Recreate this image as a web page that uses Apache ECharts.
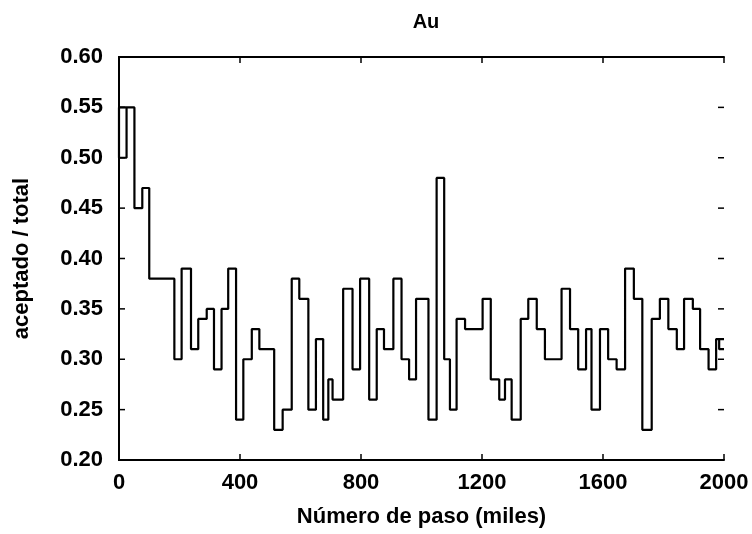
<!DOCTYPE html>
<html>
<head>
<meta charset="utf-8">
<script src="https://cdn.jsdelivr.net/npm/echarts@6/dist/echarts.min.js"></script>
<style>html,body{margin:0;padding:0;background:#fff}#c{width:752px;height:534px}</style>
</head>
<body>
<div id="c"></div>
<script>
// step start positions (thousands of steps) and accepted/total values
// (the first three points redraw the small closed box seen at the origin)
var stepX = [25, 0, 25, 51, 77, 100, 183, 207, 238, 262, 290, 314, 339, 361, 387, 411, 439, 464, 513, 541, 571, 596, 626, 651, 675, 692, 706, 741, 772, 797, 827, 852, 876, 907, 934, 959, 982, 1023, 1050, 1075, 1094, 1116, 1144, 1202, 1229, 1257, 1276, 1298, 1328, 1353, 1381, 1408, 1463, 1491, 1518, 1544, 1562, 1590, 1617, 1645, 1673, 1702, 1730, 1761, 1788, 1816, 1844, 1868, 1897, 1921, 1949, 1974, 2000, 1984, 2000];
var stepY = [0.55, 0.50, 0.55, 0.45, 0.47, 0.38, 0.30, 0.39, 0.31, 0.34, 0.35, 0.29, 0.35, 0.39, 0.24, 0.30, 0.33, 0.31, 0.23, 0.25, 0.38, 0.36, 0.25, 0.32, 0.24, 0.28, 0.26, 0.37, 0.29, 0.38, 0.26, 0.33, 0.31, 0.38, 0.30, 0.28, 0.36, 0.24, 0.48, 0.30, 0.25, 0.34, 0.33, 0.36, 0.28, 0.26, 0.28, 0.24, 0.34, 0.36, 0.33, 0.30, 0.37, 0.33, 0.29, 0.33, 0.25, 0.33, 0.30, 0.29, 0.39, 0.36, 0.23, 0.34, 0.36, 0.33, 0.31, 0.36, 0.35, 0.31, 0.29, 0.32, 0.32, 0.31, 0.31];
var xTicks = [0, 400, 800, 1200, 1600, 2000];
var yTicks = [0.20, 0.25, 0.30, 0.35, 0.40, 0.45, 0.50, 0.55, 0.60];

var XMIN = xTicks[0], XMAX = xTicks[xTicks.length - 1];
var YMIN = yTicks[0], YMAX = yTicks[yTicks.length - 1];
var TL = 6;
var data = stepX.map(function (x, i) { return [x, stepY[i]]; });
var FONT = '"Liberation Sans", Arial, Helvetica, sans-serif';
var chart = echarts.init(document.getElementById('c'), null, {renderer: 'canvas'});
function axLine() { return {show: true, lineStyle: {color: '#000', width: 2}}; }
var tickLine = {stroke: '#000', lineWidth: 1.5};

chart.setOption({
  animation: false,
  backgroundColor: '#fff',
  title: {
    text: 'Au', left: 421, top: 7, textAlign: 'center',
    textStyle: {fontFamily: FONT, fontWeight: 'bold', fontSize: 20, color: '#000'}
  },
  grid: {left: 119, right: 28, top: 57, bottom: 74, show: false},
  xAxis: [{
    type: 'value', min: XMIN, max: XMAX, interval: 400,
    axisLine: axLine(), axisTick: {show: false}, splitLine: {show: false},
    axisLabel: {margin: 12, fontFamily: FONT, fontWeight: 'bold', fontSize: 22, color: '#000',
      formatter: function (v) { return String(v); }},
    name: 'Número de paso (miles)', nameLocation: 'middle', nameGap: 46,
    nameTextStyle: {fontFamily: FONT, fontWeight: 'bold', fontSize: 22, color: '#000'}
  }, {
    type: 'value', position: 'top', min: XMIN, max: XMAX, interval: 400,
    axisLine: axLine(), axisTick: {show: false}, axisLabel: {show: false}, splitLine: {show: false}
  }],
  yAxis: [{
    type: 'value', min: YMIN, max: YMAX, interval: 0.05,
    axisLine: axLine(), axisTick: {show: false}, splitLine: {show: false},
    axisLabel: {margin: 16, fontFamily: FONT, fontWeight: 'bold', fontSize: 22, color: '#000',
      formatter: function (v) { return v.toFixed(2); }},
    name: 'aceptado / total', nameLocation: 'middle', nameGap: 86, nameRotate: 90,
    nameTextStyle: {fontFamily: FONT, fontWeight: 'bold', fontSize: 22, color: '#000'}
  }, {
    type: 'value', position: 'right', min: YMIN, max: YMAX, interval: 0.05,
    axisLine: axLine(), axisTick: {show: false}, axisLabel: {show: false}, splitLine: {show: false}
  }],
  series: [{
    type: 'line', step: 'end', data: data, showSymbol: false, symbol: 'none',
    xAxisIndex: 0, yAxisIndex: 0,
    lineStyle: {color: '#000', width: 2.2}
  }, {
    // inward ticks on bottom and top frame
    type: 'custom', xAxisIndex: 0, yAxisIndex: 0, clip: false, silent: true,
    data: xTicks.map(function (v) { return [v]; }),
    renderItem: function (params, api) {
      var v = api.value(0);
      var b = api.coord([v, YMIN]), t = api.coord([v, YMAX]);
      return {type: 'group', children: [
        {type: 'line', shape: {x1: b[0], y1: b[1], x2: b[0], y2: b[1] - TL}, style: tickLine},
        {type: 'line', shape: {x1: t[0], y1: t[1], x2: t[0], y2: t[1] + TL}, style: tickLine}
      ]};
    }
  }, {
    // inward ticks on left and right frame
    type: 'custom', xAxisIndex: 0, yAxisIndex: 0, clip: false, silent: true,
    data: yTicks.map(function (v) { return [XMIN, v]; }),
    encode: {x: 0, y: 1},
    renderItem: function (params, api) {
      var v = api.value(1);
      var l = api.coord([XMIN, v]), r = api.coord([XMAX, v]);
      return {type: 'group', children: [
        {type: 'line', shape: {x1: l[0], y1: l[1], x2: l[0] + TL, y2: l[1]}, style: tickLine},
        {type: 'line', shape: {x1: r[0], y1: r[1], x2: r[0] - TL, y2: r[1]}, style: tickLine}
      ]};
    }
  }]
});
</script>
</body>
</html>
